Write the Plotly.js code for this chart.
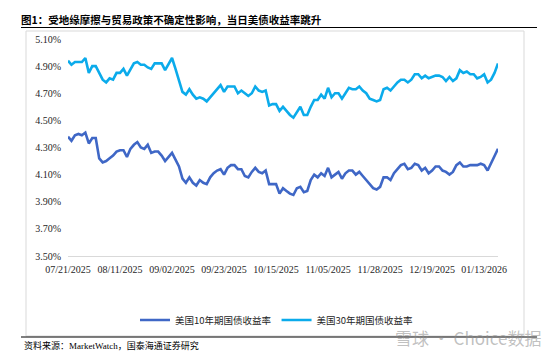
<!DOCTYPE html>
<html><head><meta charset="utf-8">
<script src="https://cdn.plot.ly/plotly-3.0.1.min.js"></script>
<style>html,body{margin:0;padding:0;background:#fff}#c{width:554px;height:354px}</style>
</head><body><div id="c"></div>
<script>
var dates = ["07/21/2025","07/22/2025","07/23/2025","07/24/2025","07/25/2025","07/28/2025","07/29/2025","07/30/2025","07/31/2025",
"08/01/2025","08/04/2025","08/05/2025","08/06/2025","08/07/2025","08/08/2025","08/11/2025","08/12/2025","08/13/2025","08/14/2025","08/15/2025",
"08/18/2025","08/19/2025","08/20/2025","08/21/2025","08/22/2025","08/25/2025","08/26/2025","08/27/2025","08/28/2025","08/29/2025",
"09/02/2025","09/03/2025","09/04/2025","09/05/2025","09/08/2025","09/09/2025","09/10/2025","09/11/2025","09/12/2025",
"09/15/2025","09/16/2025","09/17/2025","09/18/2025","09/19/2025","09/22/2025","09/23/2025","09/24/2025","09/25/2025","09/26/2025","09/29/2025","09/30/2025",
"10/01/2025","10/02/2025","10/03/2025","10/06/2025","10/07/2025","10/08/2025","10/09/2025","10/10/2025","10/14/2025","10/15/2025","10/16/2025","10/17/2025",
"10/20/2025","10/21/2025","10/22/2025","10/23/2025","10/24/2025","10/27/2025","10/28/2025","10/29/2025","10/30/2025","10/31/2025",
"11/03/2025","11/04/2025","11/05/2025","11/06/2025","11/07/2025","11/10/2025","11/12/2025","11/13/2025","11/14/2025",
"11/17/2025","11/18/2025","11/19/2025","11/20/2025","11/21/2025","11/24/2025","11/25/2025","11/26/2025","11/28/2025",
"12/01/2025","12/02/2025","12/03/2025","12/04/2025","12/05/2025","12/08/2025","12/09/2025","12/10/2025","12/11/2025","12/12/2025",
"12/15/2025","12/16/2025","12/17/2025","12/18/2025","12/19/2025","12/22/2025","12/23/2025","12/24/2025","12/26/2025","12/29/2025","12/30/2025","12/31/2025",
"01/02/2026","01/05/2026","01/06/2026","01/07/2026","01/08/2026","01/09/2026","01/12/2026","01/13/2026","01/14/2026","01/15/2026","01/16/2026","01/20/2026"];

var us10y = [4.38,4.35,4.39,4.40,4.39,4.41,4.33,4.37,4.37,
4.22,4.19,4.20,4.22,4.24,4.27,4.28,4.28,4.23,4.29,4.32,
4.34,4.30,4.29,4.32,4.26,4.27,4.27,4.24,4.20,4.23,
4.26,4.21,4.16,4.07,4.04,4.08,4.04,4.02,4.06,
4.04,4.03,4.08,4.11,4.13,4.14,4.10,4.15,4.17,4.17,4.14,4.14,
4.09,4.08,4.12,4.15,4.12,4.11,4.13,4.03,4.03,4.03,3.96,4.00,
3.98,3.96,3.95,4.00,4.01,3.97,3.98,4.06,4.10,4.08,
4.11,4.09,4.15,4.08,4.10,4.12,4.07,4.11,4.13,
4.13,4.10,4.12,4.09,4.06,4.03,4.00,3.99,4.01,
4.08,4.08,4.06,4.11,4.14,4.17,4.18,4.14,4.15,4.18,
4.17,4.13,4.15,4.11,4.13,4.16,4.16,4.13,4.12,4.10,4.12,4.17,
4.19,4.16,4.16,4.17,4.17,4.17,4.18,4.17,4.13,4.18,4.23,4.29];

var us30y = [4.94,4.91,4.93,4.93,4.93,4.96,4.85,4.90,4.90,
4.85,4.80,4.78,4.81,4.80,4.85,4.85,4.88,4.83,4.87,4.92,
4.93,4.91,4.91,4.89,4.88,4.92,4.92,4.92,4.87,4.91,
4.96,4.88,4.79,4.71,4.69,4.73,4.69,4.66,4.67,
4.66,4.64,4.67,4.70,4.73,4.76,4.71,4.75,4.75,4.75,4.70,4.72,
4.70,4.68,4.70,4.75,4.72,4.71,4.72,4.61,4.62,4.62,4.57,4.60,
4.57,4.54,4.52,4.56,4.60,4.54,4.54,4.60,4.65,4.65,
4.69,4.66,4.74,4.67,4.70,4.70,4.66,4.70,4.74,
4.73,4.73,4.75,4.72,4.70,4.66,4.65,4.64,4.65,
4.73,4.74,4.72,4.75,4.78,4.80,4.80,4.78,4.80,4.84,
4.84,4.81,4.83,4.81,4.82,4.83,4.83,4.82,4.79,4.82,4.79,4.81,
4.87,4.85,4.86,4.84,4.84,4.81,4.82,4.84,4.78,4.80,4.85,4.92];

var tickLabels = ["07/21/2025","08/11/2025","09/02/2025","09/23/2025","10/15/2025","11/05/2025","11/28/2025","12/19/2025","01/13/2026"];
var seriesNames = ["美国10年期国债收益率","美国30年期国债收益率"];
var titleText = "图1：受地缘摩擦与贸易政策不确定性影响，当日美债收益率跳升";
var sourceText = "资料来源：MarketWatch，国泰海通证券研究";

var serif = "'Liberation Serif', 'Noto Sans CJK SC', serif";
var cjk = "'Noto Sans CJK SC', 'Liberation Serif', sans-serif";

var traces = [
  {x: dates, y: us10y, name: seriesNames[0], type: 'scatter', mode: 'lines',
   line: {color: '#3F67C6', width: 2.6}},
  {x: dates, y: us30y, name: seriesNames[1], type: 'scatter', mode: 'lines',
   line: {color: '#0BABEB', width: 2.6}}
];

// pixel -> paper helpers (plot area 68..498 x, 39..256 y)
function px(p){ return (p - 68) / 430; }
function py(p){ return (256 - p) / 217; }

var layout = {
  width: 554, height: 354,
  margin: {l: 68, r: 56, t: 39, b: 98, pad: 0},
  paper_bgcolor: '#ffffff', plot_bgcolor: '#ffffff',
  showlegend: true,
  title: {text: '<b>' + titleText + '</b>', x: 21/554, xanchor: 'left', xref: 'container',
          y: 1 - 20/354, yanchor: 'middle', yref: 'container',
          font: {family: cjk, size: 10.5, color: '#000'}},
  xaxis: {type: 'category', range: [0, dates.length - 1], tickvals: tickLabels, ticktext: tickLabels,
          tickangle: 0, showgrid: false, zeroline: false, showline: true, linecolor: '#d9d9d9', linewidth: 1,
          ticks: '', ticklabelstandoff: 4, tickfont: {family: serif, size: 10, color: '#262626'}, fixedrange: true},
  yaxis: {range: [3.5, 5.1], tick0: 3.5, dtick: 0.2, tickformat: '.2f', ticksuffix: '%',
          showgrid: false, zeroline: false, showline: false, ticks: '', ticklabelstandoff: 6,
          tickfont: {family: serif, size: 10, color: '#262626'}, fixedrange: true},
  legend: {orientation: 'h', x: 0.5, xref: 'container', xanchor: 'center',
           y: (354 - 320) / 354, yref: 'container', yanchor: 'middle',
           font: {family: cjk, size: 9.5, color: '#262626'}, itemwidth: 30, tracegroupgap: 0,
           bgcolor: 'rgba(0,0,0,0)'},
  shapes: [
    {type: 'rect', xref: 'paper', yref: 'paper', x0: px(26), x1: px(524), y0: py(336), y1: py(31),
     line: {color: '#d9d9d9', width: 1}, fillcolor: 'rgba(0,0,0,0)', layer: 'below'},
    {type: 'line', xref: 'paper', yref: 'paper', x0: px(21), x1: px(537), y0: py(27.5), y1: py(27.5),
     line: {color: '#000', width: 1.2}},
    {type: 'line', xref: 'paper', yref: 'paper', x0: px(21), x1: px(537), y0: py(337), y1: py(337),
     line: {color: '#000', width: 1}}
  ],
  annotations: [
    {text: sourceText, xref: 'paper', yref: 'paper', x: px(22), y: py(345.5), xanchor: 'left', yanchor: 'middle',
     showarrow: false, font: {family: serif, size: 9, color: '#000'}},
    {text: '雪球 · Choice数据', xref: 'paper', yref: 'paper', x: px(543), y: py(337), xanchor: 'right', yanchor: 'middle',
     showarrow: false, font: {family: cjk, size: 17, color: 'rgba(140,140,140,0.55)'}}
  ]
};

Plotly.newPlot('c', traces, layout, {displayModeBar: false, staticPlot: true});
</script>
</body></html>
